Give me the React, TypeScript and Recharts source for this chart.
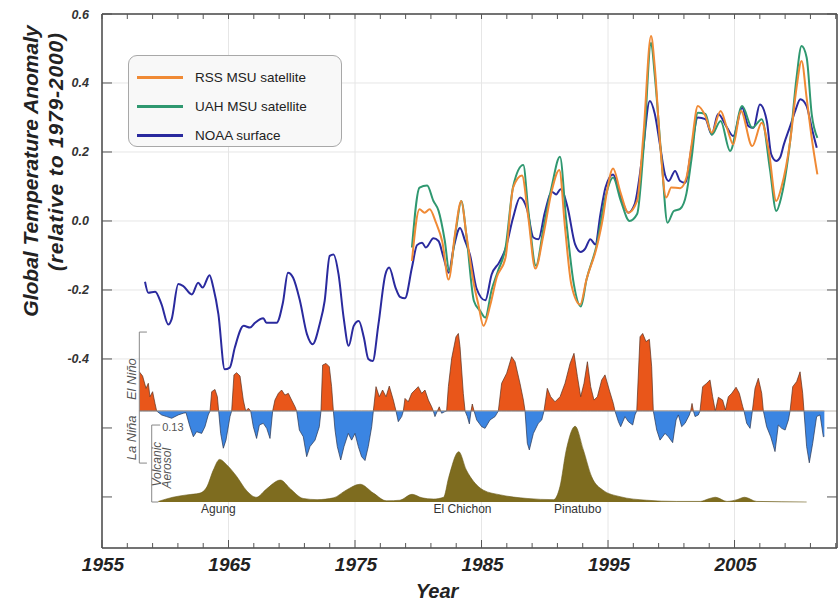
import React from 'react';
import {
  ComposedChart, Line, Area, XAxis, YAxis, CartesianGrid,
  ReferenceLine, ReferenceDot, Legend,
} from 'recharts';

const FONT = '"Liberation Sans", Arial, Helvetica, sans-serif';

const NOAA: [number, number][] = [
  [1958.4, -0.176], [1958.66, -0.208], [1959.2, -0.205], [1959.7, -0.241], [1960.24, -0.3], [1960.5, -0.285],
  [1961.03, -0.183], [1961.4, -0.188], [1962.1, -0.213], [1962.6, -0.179], [1962.95, -0.193], [1963.5, -0.157],
  [1963.8, -0.193], [1964.2, -0.27], [1964.7, -0.43], [1965.1, -0.425], [1965.5, -0.367], [1966.2, -0.304],
  [1966.7, -0.309], [1967.1, -0.295], [1967.75, -0.282], [1968.0, -0.295], [1968.8, -0.295], [1969.3, -0.237],
  [1969.7, -0.15], [1970.1, -0.164], [1970.65, -0.232], [1971.2, -0.328], [1971.65, -0.357], [1972.2, -0.3],
  [1972.6, -0.232], [1973.0, -0.101], [1973.3, -0.097], [1973.7, -0.155], [1974.1, -0.28], [1974.5, -0.362],
  [1974.9, -0.304], [1975.3, -0.29], [1975.7, -0.338], [1976.05, -0.4], [1976.4, -0.406], [1976.85, -0.3],
  [1977.4, -0.155], [1977.7, -0.135], [1978.2, -0.193], [1978.55, -0.22], [1978.95, -0.224], [1979.5, -0.135],
  [1979.9, -0.07], [1980.3, -0.063], [1980.6, -0.077], [1981.2, -0.05], [1981.6, -0.058], [1982.0, -0.106],
  [1982.4, -0.15], [1982.8, -0.077], [1983.3, -0.02], [1983.7, -0.058], [1984.1, -0.1], [1984.6, -0.195],
  [1985.3, -0.23], [1985.8, -0.155], [1986.4, -0.12], [1986.9, -0.08], [1987.5, 0.01], [1988.05, 0.068],
  [1988.6, 0.034], [1989.1, -0.048], [1989.5, -0.053], [1990.0, 0.024], [1990.55, 0.085], [1990.9, 0.077],
  [1991.25, 0.092], [1991.8, 0.04], [1992.4, -0.068], [1992.85, -0.09], [1993.2, -0.08], [1993.6, -0.053],
  [1994.0, -0.068], [1994.4, 0.02], [1994.8, 0.097], [1995.4, 0.135], [1995.95, 0.077], [1996.6, 0.024],
  [1997.1, 0.048], [1997.7, 0.184], [1998.3, 0.348], [1998.7, 0.31], [1999.1, 0.222], [1999.5, 0.135],
  [1999.8, 0.116], [2000.3, 0.145], [2000.7, 0.116], [2001.1, 0.111], [2001.6, 0.212], [2002.1, 0.3],
  [2002.7, 0.295], [2003.2, 0.251], [2003.7, 0.31], [2004.4, 0.271], [2004.9, 0.246], [2005.6, 0.328],
  [2006.1, 0.275], [2006.5, 0.27], [2007.0, 0.338], [2007.55, 0.29], [2007.9, 0.193], [2008.3, 0.174],
  [2008.6, 0.184], [2008.9, 0.222], [2009.4, 0.275], [2009.8, 0.319], [2010.2, 0.353], [2010.7, 0.333],
  [2011.1, 0.27], [2011.5, 0.212],
];

const RSS: [number, number][] = [
  [1979.5, -0.116], [1980.1, 0.034], [1980.5, 0.024], [1980.9, 0.034], [1981.4, -0.005], [1981.9, -0.06],
  [1982.4, -0.17], [1982.9, -0.039], [1983.4, 0.058], [1983.8, -0.039], [1984.4, -0.184], [1984.75, -0.242],
  [1985.15, -0.304], [1985.7, -0.242], [1986.2, -0.164], [1986.9, -0.106], [1987.5, 0.097], [1988.2, 0.132],
  [1988.7, 0.01], [1989.25, -0.138], [1989.9, -0.039], [1990.55, 0.087], [1991.15, 0.148], [1991.6, -0.019],
  [1992.1, -0.184], [1992.8, -0.242], [1993.3, -0.169], [1994.1, -0.077], [1994.6, 0.01], [1994.9, 0.082],
  [1995.4, 0.152], [1995.95, 0.087], [1996.6, 0.024], [1997.3, 0.058], [1997.8, 0.251], [1998.4, 0.536],
  [1998.7, 0.445], [1999.1, 0.232], [1999.6, 0.068], [2000.0, 0.097], [2000.7, 0.095], [2001.2, 0.126],
  [2001.6, 0.22], [2002.1, 0.333], [2002.7, 0.304], [2003.2, 0.256], [2003.9, 0.319], [2004.4, 0.27],
  [2004.9, 0.222], [2005.5, 0.319], [2006.4, 0.217], [2007.15, 0.285], [2007.7, 0.205], [2008.3, 0.058],
  [2008.7, 0.097], [2009.4, 0.232], [2009.9, 0.386], [2010.3, 0.464], [2010.7, 0.357], [2011.1, 0.241],
  [2011.55, 0.135],
];

const UAH: [number, number][] = [
  [1979.5, -0.077], [1980.1, 0.097], [1980.7, 0.103], [1981.2, 0.058], [1981.6, 0.03], [1982.1, -0.058],
  [1982.45, -0.145], [1983.0, -0.02], [1983.4, 0.058], [1983.8, -0.04], [1984.4, -0.232], [1984.9, -0.261],
  [1985.3, -0.28], [1985.8, -0.2], [1986.3, -0.145], [1986.9, -0.077], [1987.5, 0.1], [1988.3, 0.162],
  [1988.7, 0.03], [1989.3, -0.13], [1989.9, -0.02], [1990.55, 0.1], [1991.2, 0.186], [1991.7, 0.0],
  [1992.3, -0.184], [1992.85, -0.248], [1993.3, -0.17], [1994.1, -0.07], [1994.8, 0.07], [1995.4, 0.126],
  [1996.0, 0.06], [1996.7, 0.0], [1997.3, 0.02], [1997.85, 0.23], [1998.4, 0.517], [1998.7, 0.42],
  [1999.25, 0.17], [1999.7, -0.005], [2000.2, 0.029], [2000.7, 0.035], [2001.2, 0.08], [2001.6, 0.18],
  [2002.1, 0.314], [2002.7, 0.31], [2003.2, 0.25], [2003.9, 0.29], [2004.65, 0.203], [2005.6, 0.333],
  [2006.4, 0.27], [2007.15, 0.295], [2007.8, 0.15], [2008.3, 0.029], [2008.7, 0.07], [2009.4, 0.232],
  [2009.9, 0.415], [2010.3, 0.507], [2010.7, 0.474], [2011.1, 0.31], [2011.55, 0.241],
];

const ENSO: [number, number][] = [
  [1957.95, 1.4], [1958.21, 1.25], [1958.48, 0.81], [1958.66, 0.99], [1958.79, 0.51], [1959.0, 0.69],
  [1959.19, 0.27], [1959.32, 0], [1959.71, -0.14], [1960.11, -0.2], [1960.51, -0.26], [1961.03, -0.14],
  [1961.43, -0.08], [1961.64, -0.06], [1961.95, -0.56], [1962.22, -0.92], [1962.48, -0.74], [1962.88, -0.8],
  [1963.14, -0.56], [1963.4, -0.14], [1963.54, 0], [1963.67, 0.69], [1963.93, 0.77], [1964.12, 0.51],
  [1964.22, 0], [1964.38, -0.8], [1964.59, -1.33], [1964.8, -1.04], [1965.12, -0.2], [1965.25, 0],
  [1965.43, 1.29], [1965.64, 1.37], [1965.91, 1.25], [1966.17, 0.39], [1966.36, 0], [1966.57, 0.1],
  [1966.75, 0], [1966.96, -0.56], [1967.22, -0.98], [1967.44, -0.5], [1967.75, -0.44], [1968.02, -0.62],
  [1968.28, -0.98], [1968.49, 0], [1968.67, 0.39], [1968.94, 0.63], [1969.2, 0.75], [1969.46, 0.57],
  [1969.73, 0.63], [1969.99, 0.39], [1970.26, 0.15], [1970.39, 0], [1970.6, -0.68], [1970.91, -0.92],
  [1971.18, -1.63], [1971.44, -1.27], [1971.84, -1.04], [1972.18, -0.56], [1972.31, 0], [1972.44, 1.64],
  [1972.71, 1.7], [1972.97, 1.58], [1973.15, 0.87], [1973.29, 0], [1973.42, -0.68], [1973.6, -1.27],
  [1973.87, -1.75], [1974.13, -1.27], [1974.47, -0.8], [1974.73, -1.04], [1975.0, -0.8], [1975.26, -1.27],
  [1975.52, -1.63], [1975.79, -1.77], [1976.05, -1.27], [1976.32, -0.56], [1976.45, 0], [1976.66, 0.87],
  [1976.92, 0.51], [1977.18, 0.75], [1977.45, 0.51], [1977.71, 0.89], [1978.03, 0.39], [1978.24, 0],
  [1978.42, -0.38], [1978.69, -0.2], [1978.82, 0], [1978.95, 0.45], [1979.21, 0.33], [1979.48, 0.63],
  [1979.74, 0.75], [1980.0, 0.87], [1980.27, 0.63], [1980.53, 0.75], [1980.8, 0.39], [1981.06, 0.15],
  [1981.19, 0], [1981.32, -0.2], [1981.51, 0], [1981.66, 0.15], [1981.77, 0], [1981.85, -0.08],
  [1982.11, -0.02], [1982.24, 0], [1982.38, 0.87], [1982.64, 1.88], [1982.98, 2.65], [1983.17, 2.77],
  [1983.3, 2.3], [1983.56, 0.63], [1983.7, 0], [1983.88, -0.2], [1984.04, -0.46], [1984.17, 0],
  [1984.27, 0.25], [1984.41, 0], [1984.62, -0.32], [1985.01, -0.56], [1985.28, -0.62], [1985.67, -0.32],
  [1986.07, -0.2], [1986.33, 0], [1986.59, 0.99], [1986.99, 1.35], [1987.38, 1.94], [1987.65, 1.76],
  [1988.04, 0.99], [1988.31, 0.39], [1988.44, 0], [1988.62, -1.15], [1988.78, -1.39], [1989.1, -0.8],
  [1989.49, -0.44], [1989.76, -0.32], [1989.94, 0], [1990.2, 0.81], [1990.47, 0.51], [1990.81, 0.33],
  [1991.21, 0.51], [1991.6, 0.99], [1992.0, 1.7], [1992.31, 2.06], [1992.58, 1.23], [1992.84, 0.51],
  [1993.1, 0.99], [1993.37, 1.76], [1993.63, 0.87], [1993.89, 0.39], [1994.16, 0.51], [1994.5, 1.11],
  [1994.76, 1.29], [1995.1, 0.75], [1995.42, 0.27], [1995.55, 0], [1995.82, -0.38], [1996.0, -0.56],
  [1996.34, -0.2], [1996.61, -0.38], [1996.95, -0.5], [1997.13, -0.14], [1997.27, 0], [1997.53, 2.65],
  [1997.74, 2.77], [1998.0, 2.48], [1998.27, 2.56], [1998.45, 1.58], [1998.58, 0], [1998.85, -0.68],
  [1999.11, -1.04], [1999.51, -0.8], [1999.77, -0.92], [2000.11, -1.13], [2000.38, -0.32], [2000.56, -0.14],
  [2000.82, -0.56], [2001.09, -0.44], [2001.43, -0.14], [2001.53, 0], [2001.64, 0.27], [2001.75, 0],
  [2001.88, -0.2], [2002.14, -0.14], [2002.27, 0], [2002.48, 0.87], [2002.8, 0.99], [2003.06, 1.11],
  [2003.27, 0.51], [2003.48, 0], [2003.72, 0.49], [2004.06, 0.39], [2004.28, 0.04], [2004.51, 0.51],
  [2004.78, 0.63], [2005.12, 0.85], [2005.38, 0.63], [2005.65, 0.15], [2005.75, 0], [2005.96, -0.44],
  [2006.23, -0.62], [2006.41, 0], [2006.62, 0.81], [2006.88, 1.17], [2007.15, 0.63], [2007.28, 0],
  [2007.54, -0.56], [2007.86, -0.92], [2008.2, -1.45], [2008.46, -0.5], [2008.73, -0.62], [2009.0, -0.68],
  [2009.26, -0.32], [2009.39, 0], [2009.6, 0.87], [2009.91, 1.05], [2010.18, 1.4], [2010.39, 0.63],
  [2010.49, 0], [2010.7, -1.27], [2010.91, -1.85], [2011.18, -1.15], [2011.49, -0.2], [2011.76, -0.14],
  [2012.02, -0.92], [2012.1, -0.9],
];

const AEROSOL: [number, number][] = [
  [1959.45, 0.001], [1960.6, 0.008], [1961.7, 0.012], [1962.75, 0.015], [1963.3, 0.026], [1963.8, 0.054],
  [1964.3, 0.072], [1964.85, 0.063], [1965.65, 0.043], [1966.4, 0.02], [1967.2, 0.008], [1968.0, 0.022],
  [1969.1, 0.037], [1969.9, 0.022], [1970.9, 0.006], [1972.0, 0.004], [1973.3, 0.007], [1974.3, 0.02],
  [1975.4, 0.03], [1976.45, 0.015], [1977.5, 0.002], [1978.55, 0.003], [1979.5, 0.013], [1980.3, 0.007],
  [1981.2, 0.005], [1982.0, 0.008], [1982.4, 0.041], [1983.2, 0.085], [1983.8, 0.054], [1984.1, 0.043],
  [1985.15, 0.02], [1986.5, 0.012], [1988.6, 0.006], [1990.7, 0.004], [1991.2, 0.026], [1991.7, 0.088],
  [1992.4, 0.128], [1993.05, 0.088], [1993.7, 0.043], [1994.6, 0.02], [1995.95, 0.009], [1998.05, 0.003],
  [2000.4, 0.001], [2002.3, 0.001], [2002.9, 0.005], [2003.5, 0.008], [2004.4, 0.001], [2005.2, 0.004],
  [2005.8, 0.008], [2006.75, 0.001], [2010.7, 0.0],
];

const X_LABEL_YEARS = [1955, 1965, 1975, 1985, 1995, 2005];
const X_MINOR_STEP = 2;
const X_DOMAIN: [number, number] = [1955, 2013.1];
const Y_LABELS = [0.6, 0.4, 0.2, 0, -0.2, -0.4];
const Y_UNLABELED = [-0.6, -0.8];
const Y_DOMAIN: [number, number] = [-0.948, 0.6];
const ENSO_DOMAIN: [number, number] = [-4.893, 14.18];
const AOD_DOMAIN: [number, number] = [-0.0777, 0.8243];

const LEGEND_ORDER = ['RSS MSU satellite', 'UAH MSU satellite', 'NOAA surface'];
const VOLCANOES = [
  { name: 'Agung', year: 1964.2 },
  { name: 'El Chichon', year: 1983.5 },
  { name: 'Pinatubo', year: 1992.6 },
];
const ENSO_TEXT = [
  { text: 'El Niño', year: 1957.35, value: 1.14 },
  { text: 'La Niña', year: 1957.35, value: -0.96 },
];
const AOD_TEXT = [
  { text: 'Volcanic', year: 1959.35, value: 0.064 },
  { text: 'Aerosol', year: 1960.1, value: 0.057 },
];
const ENSO_BRACKET = { year: 1957.95, capEnd: 1958.55, top: 2.82, bottom: -1.86 };
const AOD_BRACKET = { year: 1958.93, capEnd: 1959.6, top: 0.13, bottom: 0 };

const noaaData = NOAA.map(([year, v]) => ({ year, noaa: v }));
const rssData = RSS.map(([year, v]) => ({ year, rss: v }));
const uahData = UAH.map(([year, v]) => ({ year, uah: v }));
const ensoData = ENSO.map(([year, v]) => ({ year, pos: Math.max(v, 0), neg: Math.min(v, 0) }));
const aodData = AEROSOL.map(([year, v]) => ({ year, aod: v }));

const xTicks: number[] = [];
for (let y = X_DOMAIN[0]; y <= X_DOMAIN[1]; y += X_MINOR_STEP) xTicks.push(y);
const yTicks = [...Y_LABELS, ...Y_UNLABELED];

const TICK_COLOR = '#555';

const BottomTick = (props: any) => {
  const { x, y, payload } = props;
  const major = X_LABEL_YEARS.includes(payload.value);
  return (
    <g>
      <line x1={x} x2={x} y1={y} y2={y - (major ? 8 : 5)} stroke={TICK_COLOR} strokeWidth={1} />
      {major && (
        <text x={x + 1} y={y + 23} textAnchor="middle" fontFamily={FONT} fontSize={19}
          fontWeight="bold" fontStyle="italic" fill="#222">{payload.value}</text>
      )}
    </g>
  );
};

const TopTick = (props: any) => {
  const { x, y } = props;
  return <line x1={x} x2={x} y1={y} y2={y + 5} stroke={TICK_COLOR} strokeWidth={1} />;
};

const LeftTick = (props: any) => {
  const { x, y, payload } = props;
  const labeled = Y_LABELS.some((v) => Math.abs(v - payload.value) < 1e-6);
  return (
    <g>
      <line x1={x} x2={x + 10} y1={y} y2={y} stroke={TICK_COLOR} strokeWidth={1} />
      {labeled && (
        <text x={x - 13} y={y} dy={4.5} textAnchor="end" fontFamily={FONT} fontSize={12.5}
          fontWeight="bold" fontStyle="italic" fill="#333">{Number(payload.value).toFixed(1)}</text>
      )}
    </g>
  );
};

const RightTick = (props: any) => {
  const { x, y } = props;
  return <line x1={x} x2={x - 10} y1={y} y2={y} stroke={TICK_COLOR} strokeWidth={1} />;
};

const YTitle = () => (
  <g fontFamily={FONT} fontWeight="bold" fontStyle="italic" fill="#222">
    <text transform="translate(38,171) rotate(-90)" textAnchor="middle" fontSize={21}>
      Global Temperature Anomaly
    </text>
    <text transform="translate(63,152) rotate(-90)" textAnchor="middle" fontSize={21}
      textLength={238} lengthAdjust="spacing">
      (relative to 1979-2000)
    </text>
  </g>
);

const XTitle = () => (
  <text x={437} y={598} textAnchor="middle" fontFamily={FONT} fontSize={20}
    fontWeight="bold" fontStyle="italic" fill="#222">Year</text>
);

const renderLegend = (props: any) => {
  const items = [...(props.payload || [])]
    .filter((p: any) => LEGEND_ORDER.includes(p.value))
    .sort((a: any, b: any) => LEGEND_ORDER.indexOf(a.value) - LEGEND_ORDER.indexOf(b.value));
  return (
    <div style={{
      width: 214, height: 92, boxSizing: 'border-box', border: '1px solid #a8a8a8',
      borderRadius: 9, background: '#f8f8f8', paddingTop: 7,
    }}>
      {items.map((it: any) => (
        <div key={it.value} style={{ display: 'flex', alignItems: 'center', height: 29 }}>
          <div style={{ marginLeft: 8, width: 46, height: 2.5, background: it.color }} />
          <span style={{ marginLeft: 12, fontSize: 13.5, fontFamily: FONT, color: '#222' }}>{it.value}</span>
        </div>
      ))}
    </div>
  );
};

export default function App() {
  return (
    <div style={{ position: 'absolute', left: 0, top: 0, background: '#fff' }}>
      <ComposedChart width={840} height={601} margin={{ top: 0, right: 0, bottom: 0, left: 0 }}>
        <CartesianGrid
          xAxisId="bottom" yAxisId="temp"
          horizontalValues={[0.4, 0.2, 0, -0.2, -0.4]}
          verticalValues={[1965, 1975, 1985, 1995, 2005]}
          stroke="#e6e6e6" strokeWidth={1}
        />
        <XAxis
          xAxisId="bottom" orientation="bottom" dataKey="year" type="number" scale="linear"
          domain={X_DOMAIN} allowDataOverflow ticks={xTicks} interval={0} height={53}
          tickSize={0} tickMargin={0} tickLine={false} tick={<BottomTick />}
          axisLine={{ stroke: '#444', strokeWidth: 1.5 }} label={<XTitle />}
        />
        <XAxis
          xAxisId="top" orientation="top" dataKey="year" type="number" scale="linear"
          domain={X_DOMAIN} allowDataOverflow ticks={xTicks} interval={0} height={14}
          tickSize={0} tickMargin={0} tickLine={false} tick={<TopTick />}
          axisLine={{ stroke: '#444', strokeWidth: 1.5 }}
        />
        <YAxis
          yAxisId="temp" orientation="left" type="number" domain={Y_DOMAIN} allowDataOverflow
          ticks={yTicks} interval={0} width={102} tickSize={0} tickMargin={0} tickLine={false}
          tick={<LeftTick />} axisLine={{ stroke: '#444', strokeWidth: 1.5 }} label={<YTitle />}
        />
        <YAxis
          yAxisId="tempR" orientation="right" type="number" domain={Y_DOMAIN} allowDataOverflow
          ticks={yTicks} interval={0} width={3} tickSize={0} tickMargin={0} tickLine={false}
          tick={<RightTick />} axisLine={{ stroke: '#444', strokeWidth: 1.5 }}
        />
        <YAxis yAxisId="enso" hide orientation="right" width={0} type="number" domain={ENSO_DOMAIN} allowDataOverflow />
        <YAxis yAxisId="aod" hide orientation="right" width={0} type="number" domain={AOD_DOMAIN} allowDataOverflow />

        <Legend
          layout="vertical" align="center" verticalAlign="middle" content={renderLegend}
          wrapperStyle={{ left: 128, top: 55, width: 214, height: 92 }}
        />

        <ReferenceLine xAxisId="bottom" yAxisId="enso"
          segment={[{ x: ENSO_BRACKET.year, y: 0 }, { x: X_DOMAIN[1], y: 0 }]} stroke="#b0a8a0" strokeWidth={0.8} />
        <ReferenceLine xAxisId="bottom" yAxisId="enso"
          segment={[{ x: ENSO_BRACKET.year, y: ENSO_BRACKET.top }, { x: ENSO_BRACKET.year, y: ENSO_BRACKET.bottom }]}
          stroke="#888" strokeWidth={1} />
        <ReferenceLine xAxisId="bottom" yAxisId="enso"
          segment={[{ x: ENSO_BRACKET.year, y: ENSO_BRACKET.top }, { x: ENSO_BRACKET.capEnd, y: ENSO_BRACKET.top }]}
          stroke="#888" strokeWidth={1} />
        <ReferenceLine xAxisId="bottom" yAxisId="enso"
          segment={[{ x: ENSO_BRACKET.year, y: ENSO_BRACKET.bottom }, { x: ENSO_BRACKET.capEnd, y: ENSO_BRACKET.bottom }]}
          stroke="#888" strokeWidth={1} />
        <ReferenceLine xAxisId="bottom" yAxisId="aod"
          segment={[{ x: AOD_BRACKET.year, y: AOD_BRACKET.top }, { x: AOD_BRACKET.year, y: AOD_BRACKET.bottom }]}
          stroke="#888" strokeWidth={1} />
        <ReferenceLine xAxisId="bottom" yAxisId="aod"
          segment={[{ x: AOD_BRACKET.year, y: AOD_BRACKET.top }, { x: AOD_BRACKET.capEnd, y: AOD_BRACKET.top }]}
          stroke="#888" strokeWidth={1} />
        <ReferenceLine xAxisId="bottom" yAxisId="aod"
          segment={[{ x: AOD_BRACKET.year, y: AOD_BRACKET.bottom }, { x: AOD_BRACKET.capEnd - 0.15, y: AOD_BRACKET.bottom }]}
          stroke="#888" strokeWidth={1} />

        <Area xAxisId="bottom" yAxisId="aod" data={aodData} dataKey="aod" type="monotone"
          baseValue={0} fill="#7e6c1f" fillOpacity={1} stroke="#6a5a1a" strokeWidth={0.6}
          legendType="none" isAnimationActive={false} />
        <Area xAxisId="bottom" yAxisId="enso" data={ensoData} dataKey="pos" type="linear"
          baseValue={0} fill="#e9561a" fillOpacity={1} stroke="#5a3020" strokeWidth={0.7}
          legendType="none" isAnimationActive={false} />
        <Area xAxisId="bottom" yAxisId="enso" data={ensoData} dataKey="neg" type="linear"
          baseValue={0} fill="#3b85e2" fillOpacity={1} stroke="#2a3550" strokeWidth={0.7}
          legendType="none" isAnimationActive={false} />

        {ENSO_TEXT.map((t) => (
          <ReferenceDot key={t.text} xAxisId="bottom" yAxisId="enso" x={t.year} y={t.value} r={0}
            fill="none" stroke="none"
            label={{ value: t.text, position: 'center', angle: -90, fontSize: 13, fontStyle: 'italic', fill: '#555', fontFamily: FONT }} />
        ))}
        {AOD_TEXT.map((t) => (
          <ReferenceDot key={t.text} xAxisId="bottom" yAxisId="aod" x={t.year} y={t.value} r={0}
            fill="none" stroke="none"
            label={{ value: t.text, position: 'center', angle: -90, fontSize: 12, fontStyle: 'italic', fill: '#555', fontFamily: FONT }} />
        ))}
        <ReferenceDot xAxisId="bottom" yAxisId="aod" x={AOD_BRACKET.capEnd} y={0.127} r={0}
          fill="none" stroke="none"
          label={{ value: '0.13', position: 'right', offset: 2, fontSize: 11, fill: '#555', fontFamily: FONT }} />
        {VOLCANOES.map((v) => (
          <ReferenceDot key={v.name} xAxisId="bottom" yAxisId="aod" x={v.year} y={0} r={0}
            fill="none" stroke="none"
            label={{ value: v.name, position: 'bottom', offset: 2, fontSize: 12, fill: '#333', fontFamily: FONT }} />
        ))}

        <Line xAxisId="top" yAxisId="tempR" data={noaaData} dataKey="noaa" stroke="none" dot={false}
          legendType="none" isAnimationActive={false} />
        <Line xAxisId="bottom" yAxisId="temp" data={noaaData} dataKey="noaa" name="NOAA surface"
          type="monotone" stroke="#2a2a9e" strokeWidth={2} dot={false} isAnimationActive={false} />
        <Line xAxisId="bottom" yAxisId="temp" data={uahData} dataKey="uah" name="UAH MSU satellite"
          type="monotone" stroke="#2f9870" strokeWidth={2} dot={false} isAnimationActive={false} />
        <Line xAxisId="bottom" yAxisId="temp" data={rssData} dataKey="rss" name="RSS MSU satellite"
          type="monotone" stroke="#f08a35" strokeWidth={2} dot={false} isAnimationActive={false} />
      </ComposedChart>
    </div>
  );
}
